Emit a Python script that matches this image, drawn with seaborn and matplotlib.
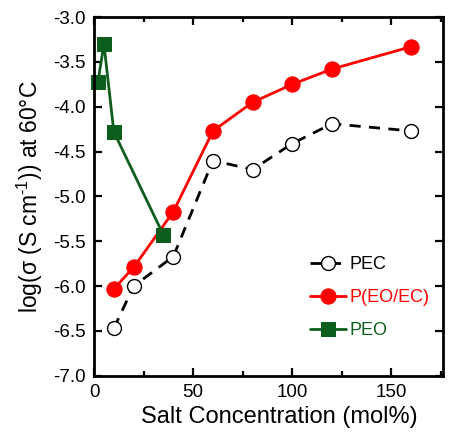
import numpy as np
import pandas as pd
import matplotlib
matplotlib.use("Agg")
import matplotlib.pyplot as plt
import seaborn as sns
from matplotlib.ticker import MultipleLocator

# data
pec_x = [10, 20, 40, 60, 80, 100, 120, 160]
pec_y = [-6.47, -6.0, -5.67, -4.6, -4.7, -4.41, -4.19, -4.27]
peoec_x = [10, 20, 40, 60, 80, 100, 120, 160]
peoec_y = [-6.03, -5.79, -5.17, -4.27, -3.95, -3.75, -3.58, -3.33]
peo_x = [2, 5, 10, 35]
peo_y = [-3.72, -3.3, -4.28, -5.43]

sns.set_style("white")
plt.rcParams['font.family'] = ['Liberation Sans', 'DejaVu Sans']
plt.rcParams['mathtext.fontset'] = 'custom'
plt.rcParams['mathtext.rm'] = 'Liberation Sans'
for k in ['text.color', 'axes.labelcolor', 'xtick.color', 'ytick.color']:
    plt.rcParams[k] = 'black'

fig = plt.figure(figsize=(4.52, 4.37), dpi=100)
ax = fig.add_axes([0.208, 0.140, 0.772, 0.821])

green = '#0d5e1c'
df_pec = pd.DataFrame({'x': pec_x, 'y': pec_y})
df_peoec = pd.DataFrame({'x': peoec_x, 'y': peoec_y})
df_peo = pd.DataFrame({'x': peo_x, 'y': peo_y})

sns.lineplot(data=df_pec, x='x', y='y', ax=ax, color='black', lw=2.0,
             linestyle=(0, (4, 3)), marker='o', markersize=10,
             markerfacecolor='white', markeredgecolor='black',
             markeredgewidth=1.0, label='PEC', clip_on=False)
sns.lineplot(data=df_peoec, x='x', y='y', ax=ax, color='#ff0000', lw=2.0,
             marker='o', markersize=11, markerfacecolor='#ff0000',
             markeredgecolor='#ff0000', label='P(EO/EC)', clip_on=False)
sns.lineplot(data=df_peo, x='x', y='y', ax=ax, color=green, lw=2.0,
             marker='s', markersize=9.5, markerfacecolor=green,
             markeredgecolor=green, label='PEO', clip_on=False)

ax.set_xlim(0, 176)
ax.set_ylim(-7.0, -3.0)
ax.xaxis.set_major_locator(MultipleLocator(50))
ax.xaxis.set_minor_locator(MultipleLocator(25))
ax.yaxis.set_major_locator(MultipleLocator(0.5))
ax.set_yticklabels([f"{v:.1f}" for v in ax.get_yticks()])
ax.tick_params(which='both', direction='in', top=True, right=True,
               bottom=True, left=True, width=1.6, labelsize=13.5, pad=6,
               color='black', labelcolor='black')
ax.tick_params(which='major', length=5.5)
ax.tick_params(which='minor', length=3.5)
for s in ax.spines.values():
    s.set_linewidth(2.0)
    s.set_color('black')

ax.set_xlabel('Salt Concentration (mol%)', fontsize=17, labelpad=3,
              color='black')
ax.xaxis.set_label_coords(0.53, -0.085)
ax.set_ylabel('log(σ (S cm$^{\\rm \\text{-}1}$)) at 60°C', fontsize=16.5,
              labelpad=6, color='black')

leg = ax.legend(loc='center left', frameon=False, fontsize=13,
                handlelength=2.0, handletextpad=0.2, labelspacing=0.9,
                borderpad=0, borderaxespad=0,
                bbox_to_anchor=(0.619, 0.218))
for t, c in zip(leg.get_texts(), ['black', '#ff0000', green]):
    t.set_color(c)

fig.savefig('out.png', dpi=100)
